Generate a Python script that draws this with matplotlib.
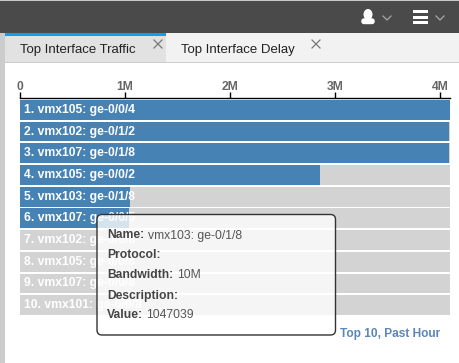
import matplotlib
matplotlib.use("Agg")
import matplotlib.pyplot as plt
from matplotlib.patches import Rectangle, FancyBboxPatch, Ellipse

plt.rcParams['font.family'] = ['Liberation Sans', 'DejaVu Sans']

# ===== data =====
labels = ["1. vmx105: ge-0/0/4", "2. vmx102: ge-0/1/2", "3. vmx107: ge-0/1/8",
          "4. vmx105: ge-0/0/2", "5. vmx103: ge-0/1/8", "6. vmx107: ge-0/0/5",
          "7. vmx102: ge-0/0/8", "8. vmx105: ge-0/0/8", "9. vmx107: ge-0/0/8",
          "10. vmx101: ge-0/0/8"]
values = [4095000, 4090000, 4085000, 2855000, 1047039, 1040000, 4500, 4500, 4500, 4500]
x_max = 4095000
tick_values = [0, 1000000, 2000000, 3000000, 4000000]
tick_labels = ["0", "1M", "2M", "3M", "4M"]
tip_names = ["Name:", "Protocol:", "Bandwidth:", "Description:", "Value:"]
tip_values = ["vmx103: ge-0/1/8", "", "10M", "", "1047039"]

W, H = 460, 363
fig = plt.figure(figsize=(W / 100, H / 100), dpi=100, facecolor="white")


def pixel_axes(z):
    a = fig.add_axes([0, 0, 1, 1], zorder=z)
    a.set_xlim(0, W)
    a.set_ylim(H, 0)
    a.axis("off")
    a.patch.set_alpha(0)
    return a


# ===== page around the chart =====
bg = pixel_axes(0)
bg.add_patch(Rectangle((0, 0), W, 33, color="#4a4a4a", lw=0))
bg.add_patch(Rectangle((0, 0), W, 1, color="#c8c8c8", lw=0))
bg.add_patch(Rectangle((0, 33), 5, H - 33, color="#cccccc", lw=0))
bg.add_patch(Rectangle((5, 33), 161, 29, color="#e2e2e2", lw=0))
bg.add_patch(Rectangle((166, 33), W - 166, 29, color="#f2f2f2", lw=0))
bg.add_patch(Rectangle((5, 33), 161, 3, color="#0f9ff0", lw=0))
bg.add_patch(Rectangle((5, 62), W - 5, 1.2, color="#cccccc", lw=0))
bg.text(20, 49.5, "Top Interface Traffic", fontsize=9.5, color="#222222", va="center")
bg.text(181, 49.5, "Top Interface Delay", fontsize=9.5, color="#222222", va="center")
for cx in (158, 316):
    bg.plot([cx - 4, cx + 4], [40, 48], color="#777777", lw=0.9)
    bg.plot([cx - 4, cx + 4], [48, 40], color="#777777", lw=0.9)

# user icon, menu icon, chevrons
bg.add_patch(Ellipse((368, 14.5), 9, 11, color="white", lw=0))
bg.add_patch(FancyBboxPatch((362, 19), 12, 4.5, boxstyle="round,pad=0,rounding_size=2",
                            color="white", lw=1))
for y in (11.5, 17, 22.5):
    bg.add_patch(Rectangle((413, y - 1.5), 15, 3, color="white", lw=0))
for cx in (387, 440):
    bg.plot([cx - 4, cx, cx + 4], [16, 20, 16], color="#a8a8a8", lw=0.9)

bg.text(340, 334, "Top 10, Past Hour", fontsize=8.6, fontweight="bold",
        color="#5b86b8", va="center")

# ===== bars =====
ax = fig.add_axes([20 / W, 1 - 317 / H, 430 / W, 219 / H], zorder=1)
ax.patch.set_alpha(0)
rows = list(range(len(labels)))
ax.barh(rows, [x_max] * len(rows), height=20 / 22, color="#d3d3d3", lw=0)
ax.barh(rows, values, height=20 / 22, color="#4682b4", lw=0)
for r, name in zip(rows, labels):
    ax.annotate(name, (0, r), xytext=(4, 0), textcoords="offset pixels",
                color="white", fontsize=8.7, fontweight="bold", va="center")

ax.set_xlim(0, x_max)
ax.set_ylim(9.5 + 1 / 22, -0.5 - 1 / 22)
ax.xaxis.tick_top()
ax.set_xticks(tick_values)
ax.set_xticklabels(tick_labels, fontsize=8.7, fontweight="bold", color="#666666")
ax.tick_params(axis="x", length=4.3, width=1, color="black", pad=-1)
ax.set_yticks([])
for s in ("left", "right", "bottom"):
    ax.spines[s].set_visible(False)
ax.spines["top"].set_linewidth(1)
ax.spines["top"].set_color("black")

# ===== tooltip =====
fg = pixel_axes(2)
fg.add_patch(FancyBboxPatch((97, 214.5), 238.5, 120.5,
                            boxstyle="round,pad=0,rounding_size=5",
                            facecolor=(1, 1, 1, 0.78), edgecolor="#333333", lw=1))
for i, (k, v) in enumerate(zip(tip_names, tip_values)):
    y = 235.5 + i * 20
    t = fg.text(107, y, k, fontsize=8.7, fontweight="bold", color="#444444", va="center")
    if v:
        fig.canvas.draw()
        right = t.get_window_extent().x1
        fg.text(right + 3.5, y, v, fontsize=8.7, color="#555555", va="center")

plt.savefig("out.png", dpi=100)
